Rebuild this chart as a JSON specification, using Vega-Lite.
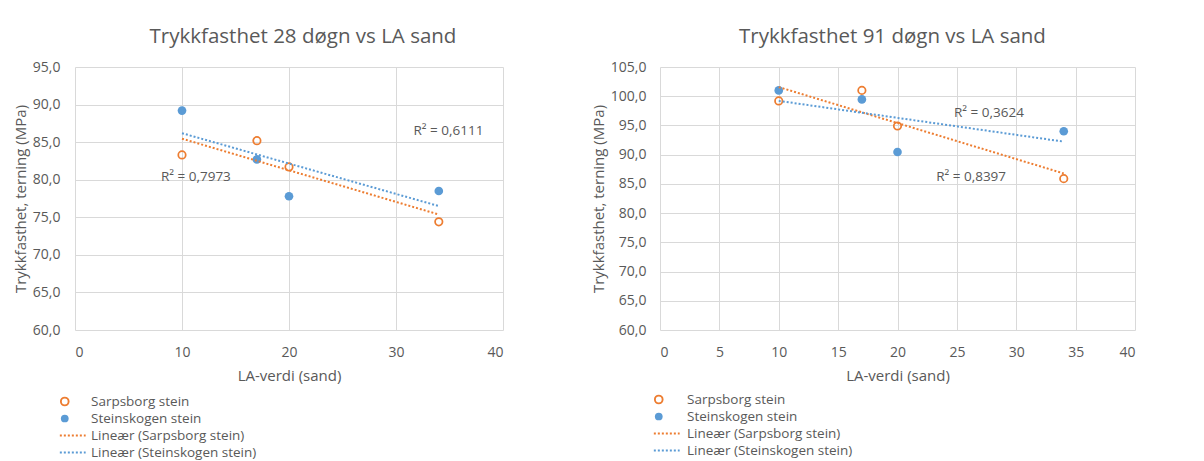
{
  "$schema": "https://vega.github.io/schema/vega-lite/v6.json",
  "background": "white",
  "padding": {"left": 13, "top": 26, "right": 5, "bottom": 0},
  "spacing": 88,
  "resolve": {
    "scale": {"color": "independent", "shape": "independent"},
    "legend": {"color": "independent", "shape": "independent"}
  },
  "datasets": {
    "points": [
      {"panel": "28", "series": "Sarpsborg stein", "trend": "Lineær (Sarpsborg stein)", "x": 10, "y": 83.3},
      {"panel": "28", "series": "Sarpsborg stein", "trend": "Lineær (Sarpsborg stein)", "x": 17, "y": 85.2},
      {"panel": "28", "series": "Sarpsborg stein", "trend": "Lineær (Sarpsborg stein)", "x": 20, "y": 81.7},
      {"panel": "28", "series": "Sarpsborg stein", "trend": "Lineær (Sarpsborg stein)", "x": 34, "y": 74.4},
      {"panel": "28", "series": "Steinskogen stein", "trend": "Lineær (Steinskogen stein)", "x": 10, "y": 89.2},
      {"panel": "28", "series": "Steinskogen stein", "trend": "Lineær (Steinskogen stein)", "x": 17, "y": 82.7},
      {"panel": "28", "series": "Steinskogen stein", "trend": "Lineær (Steinskogen stein)", "x": 20, "y": 77.8},
      {"panel": "28", "series": "Steinskogen stein", "trend": "Lineær (Steinskogen stein)", "x": 34, "y": 78.5},
      {"panel": "91", "series": "Sarpsborg stein", "trend": "Lineær (Sarpsborg stein)", "x": 10, "y": 99.2},
      {"panel": "91", "series": "Sarpsborg stein", "trend": "Lineær (Sarpsborg stein)", "x": 17, "y": 101.0},
      {"panel": "91", "series": "Sarpsborg stein", "trend": "Lineær (Sarpsborg stein)", "x": 20, "y": 94.9},
      {"panel": "91", "series": "Sarpsborg stein", "trend": "Lineær (Sarpsborg stein)", "x": 34, "y": 85.9},
      {"panel": "91", "series": "Steinskogen stein", "trend": "Lineær (Steinskogen stein)", "x": 10, "y": 101.0},
      {"panel": "91", "series": "Steinskogen stein", "trend": "Lineær (Steinskogen stein)", "x": 17, "y": 99.45},
      {"panel": "91", "series": "Steinskogen stein", "trend": "Lineær (Steinskogen stein)", "x": 20, "y": 90.45},
      {"panel": "91", "series": "Steinskogen stein", "trend": "Lineær (Steinskogen stein)", "x": 34, "y": 94.0}
    ],
    "notes": [
      {"panel": "28", "x": 11.3, "y": 80.4, "label": "R² = 0,7973"},
      {"panel": "28", "x": 34.9, "y": 86.5, "label": "R² = 0,6111"},
      {"panel": "91", "x": 27.7, "y": 97.2, "label": "R² = 0,3624"},
      {"panel": "91", "x": 26.2, "y": 86.2, "label": "R² = 0,8397"}
    ]
  },
  "config": {
    "font": "Open Sans",
    "view": {"stroke": null},
    "axis": {
      "grid": true,
      "gridColor": "#d9d9d9",
      "gridWidth": 1,
      "domain": false,
      "ticks": false,
      "tickSize": 0,
      "labelColor": "#595959",
      "titleColor": "#595959",
      "labelFontSize": 14,
      "titleFontSize": 15,
      "titleFontWeight": "normal"
    },
    "title": {"color": "#595959", "fontSize": 20.5, "fontWeight": "normal", "anchor": "middle", "offset": 13},
    "legend": {
      "title": null,
      "orient": "none",
      "padding": 0,
      "labelColor": "#595959",
      "labelFontSize": 13.5,
      "labelLimit": 320,
      "clipHeight": 15,
      "rowPadding": 2,
      "symbolSize": 60,
      "symbolStrokeWidth": 1.9,
      "symbolFillColor": {"expr": "datum.value === 'Steinskogen stein' ? '#5b9bd5' : 'transparent'"},
      "symbolStrokeColor": {"expr": "datum.value === 'Steinskogen stein' ? 'transparent' : (indexof(datum.value, 'Sarpsborg') >= 0 ? '#ed7d31' : '#5b9bd5')"},
      "symbolDash": {"expr": "indexof(datum.value, 'Line') === 0 ? [2, 2] : []"}
    }
  },
  "hconcat": [
    {
      "width": 428,
      "height": 263,
      "title": {"text": "Trykkfasthet 28 døgn vs LA sand", "dx": 14},
      "encoding": {
        "x": {
          "field": "x", "type": "quantitative",
          "scale": {"domain": [0, 40], "nice": false},
          "axis": {"values": [0, 10, 20, 30, 40], "title": "LA-verdi (sand)", "labelPadding": 15, "titlePadding": 9}
        },
        "y": {
          "field": "y", "type": "quantitative",
          "scale": {"domain": [60, 95], "nice": false, "zero": false},
          "axis": {
            "values": [60, 65, 70, 75, 80, 85, 90, 95],
            "labelExpr": "replace(format(datum.value, '.1f'), '.', ',')",
            "title": "Trykkfasthet, terning (MPa)",
            "labelPadding": 15,
            "titlePadding": 4
          }
        }
      },
      "layer": [
        {
          "data": {"name": "points"},
          "transform": [{"filter": "datum.panel === '28' && datum.series === 'Steinskogen stein'"}],
          "mark": {"type": "point", "filled": true, "size": 75, "opacity": 1},
          "encoding": {
            "color": {
              "field": "trend", "type": "nominal", "legend": null,
              "scale": {"domain": ["Lineær (Sarpsborg stein)", "Lineær (Steinskogen stein)"], "range": ["#ed7d31", "#5b9bd5"]}
            },
            "shape": {
              "field": "series", "type": "nominal",
              "scale": {"domain": ["Sarpsborg stein", "Steinskogen stein", "Lineær (Sarpsborg stein)", "Lineær (Steinskogen stein)"], "range": ["circle", "circle", "M-5.4,0H5.4", "M-5.4,0H5.4"]},
              "legend": {"legendX": -17, "legendY": 327, "labelOffset": 19.5}
            }
          }
        },
        {
          "data": {"name": "points"},
          "transform": [{"filter": "datum.panel === '28' && datum.series === 'Sarpsborg stein'"}],
          "mark": {"type": "point", "filled": false, "strokeWidth": 1.75, "size": 55, "opacity": 1},
          "encoding": {
            "color": {"field": "trend", "type": "nominal", "legend": null},
            "shape": {
              "field": "series", "type": "nominal",
              "legend": {"legendX": -17, "legendY": 327, "labelOffset": 19.5}
            }
          }
        },
        {
          "data": {"name": "points"},
          "transform": [
            {"filter": "datum.panel === '28'"},
            {"regression": "y", "on": "x", "groupby": ["trend"]}
          ],
          "mark": {"type": "line", "strokeDash": [2, 2], "strokeWidth": 2},
          "encoding": {
            "color": {"field": "trend", "type": "nominal", "legend": null}
          }
        },
        {
          "data": {"name": "notes"},
          "transform": [{"filter": "datum.panel === '28'"}],
          "mark": {"type": "text", "fontSize": 13.5, "color": "#595959"},
          "encoding": {"text": {"field": "label"}}
        }
      ]
    },
    {
      "width": 475,
      "height": 263,
      "title": {"text": "Trykkfasthet 91 døgn vs LA sand", "dx": -5},
      "encoding": {
        "x": {
          "field": "x", "type": "quantitative",
          "scale": {"domain": [0, 40], "nice": false},
          "axis": {"values": [0, 5, 10, 15, 20, 25, 30, 35, 40], "title": "LA-verdi (sand)", "labelPadding": 15, "titlePadding": 9}
        },
        "y": {
          "field": "y", "type": "quantitative",
          "scale": {"domain": [60, 105], "nice": false, "zero": false},
          "axis": {
            "values": [60, 65, 70, 75, 80, 85, 90, 95, 100, 105],
            "labelExpr": "replace(format(datum.value, '.1f'), '.', ',')",
            "title": "Trykkfasthet, terning (MPa)",
            "labelPadding": 14,
            "titlePadding": 4
          }
        }
      },
      "layer": [
        {
          "data": {"name": "points"},
          "transform": [{"filter": "datum.panel === '91' && datum.series === 'Steinskogen stein'"}],
          "mark": {"type": "point", "filled": true, "size": 75, "opacity": 1},
          "encoding": {
            "color": {
              "field": "trend", "type": "nominal", "legend": null,
              "scale": {"domain": ["Lineær (Sarpsborg stein)", "Lineær (Steinskogen stein)"], "range": ["#ed7d31", "#5b9bd5"]}
            },
            "shape": {
              "field": "series", "type": "nominal",
              "scale": {"domain": ["Sarpsborg stein", "Steinskogen stein", "Lineær (Sarpsborg stein)", "Lineær (Steinskogen stein)"], "range": ["circle", "circle", "M-5.4,0H5.4", "M-5.4,0H5.4"]},
              "legend": {"legendX": -8, "legendY": 325, "labelOffset": 21.5}
            }
          }
        },
        {
          "data": {"name": "points"},
          "transform": [{"filter": "datum.panel === '91' && datum.series === 'Sarpsborg stein'"}],
          "mark": {"type": "point", "filled": false, "strokeWidth": 1.75, "size": 55, "opacity": 1},
          "encoding": {
            "color": {"field": "trend", "type": "nominal", "legend": null},
            "shape": {
              "field": "series", "type": "nominal",
              "legend": {"legendX": -8, "legendY": 325, "labelOffset": 21.5}
            }
          }
        },
        {
          "data": {"name": "points"},
          "transform": [
            {"filter": "datum.panel === '91'"},
            {"regression": "y", "on": "x", "groupby": ["trend"]}
          ],
          "mark": {"type": "line", "strokeDash": [2, 2], "strokeWidth": 2},
          "encoding": {
            "color": {"field": "trend", "type": "nominal", "legend": null}
          }
        },
        {
          "data": {"name": "notes"},
          "transform": [{"filter": "datum.panel === '91'"}],
          "mark": {"type": "text", "fontSize": 13.5, "color": "#595959"},
          "encoding": {"text": {"field": "label"}}
        }
      ]
    }
  ]
}
